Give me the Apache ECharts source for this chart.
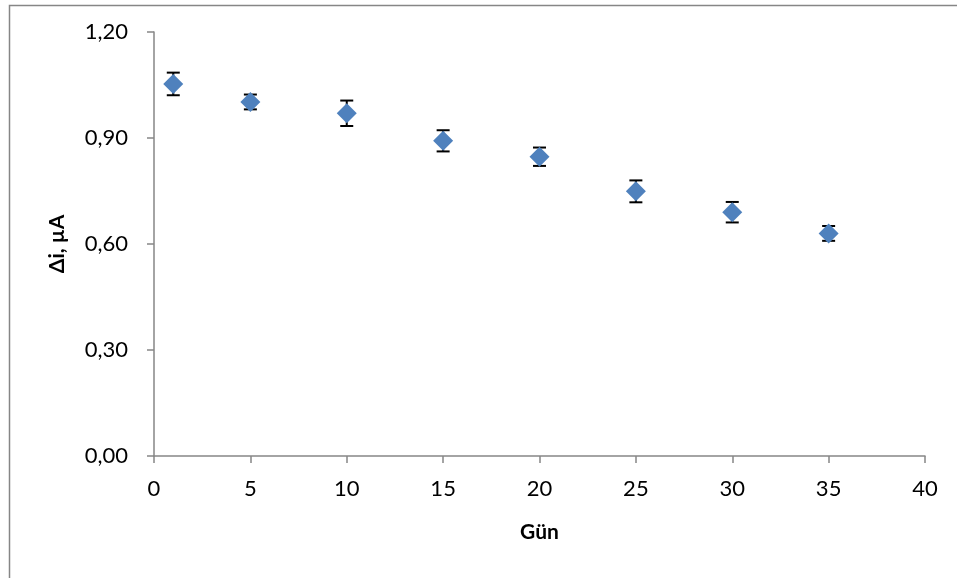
<!DOCTYPE html>
<html><head><meta charset="utf-8">
<script src="https://cdn.jsdelivr.net/npm/echarts@6/dist/echarts.min.js"></script>
<style>html,body{margin:0;padding:0;background:#fff}#c{width:957px;height:578px}</style>
</head><body><div id="c"></div>
<script>
var days = [1, 5, 10, 15, 20, 25, 30, 35];
var deltaI = [1.053, 1.002, 0.970, 0.892, 0.847, 0.749, 0.690, 0.630];
var errors = [0.032, 0.021, 0.036, 0.030, 0.026, 0.031, 0.029, 0.021];
var yTicks = [0, 0.30, 0.60, 0.90, 1.20];
var xTicks = [0, 5, 10, 15, 20, 25, 30, 35, 40];

var font = 'Lato, "Open Sans", sans-serif';
var chart = echarts.init(document.getElementById('c'));
var pts = days.map(function (d, i) { return [d, deltaI[i]]; });
var errData = days.map(function (d, i) { return [d, deltaI[i] - errors[i], deltaI[i] + errors[i]]; });

chart.setOption({
  animation: false,
  backgroundColor: '#fff',
  graphic: [{
    type: 'rect', left: 7, top: 3, shape: { width: 960, height: 590 },
    style: { fill: 'none', stroke: '#868686', lineWidth: 1.5 }, z: -10
  }],
  grid: { left: 154, right: 32, top: 32, bottom: 122 },
  xAxis: {
    type: 'value', min: xTicks[0], max: xTicks[xTicks.length - 1], interval: 5,
    name: 'Gün', nameLocation: 'middle', nameGap: 66,
    nameTextStyle: { fontFamily: font, fontSize: 21, fontWeight: 'bold', color: '#000' },
    axisLine: { lineStyle: { color: '#868686', width: 1.5 } },
    axisTick: { show: true, length: 7, inside: false, lineStyle: { color: '#868686', width: 1.5 } },
    axisLabel: { fontFamily: font, fontSize: 22, color: '#000', margin: 22 },
    splitLine: { show: false }
  },
  yAxis: {
    type: 'value', min: yTicks[0], max: yTicks[yTicks.length - 1], interval: 0.30,
    name: 'Δi, µA', nameLocation: 'middle', nameGap: 86, nameRotate: 90,
    nameTextStyle: { fontFamily: font, fontSize: 21, fontWeight: 'bold', color: '#000' },
    axisLine: { show: true, lineStyle: { color: '#868686', width: 1.5 } },
    axisTick: { show: true, length: 7, inside: false, lineStyle: { color: '#868686', width: 1.5 } },
    axisLabel: { fontFamily: font, fontSize: 22, color: '#000', margin: 26,
      formatter: function (v) { return v.toFixed(2).replace('.', ','); } },
    splitLine: { show: false }
  },
  series: [{
    type: 'custom',
    data: errData,
    z: 1,
    renderItem: function (params, api) {
      var x = api.value(0);
      var lo = api.coord([x, api.value(1)]);
      var hi = api.coord([x, api.value(2)]);
      var w = 6.5;
      var st = { stroke: '#000', lineWidth: 2 };
      return { type: 'group', children: [
        { type: 'line', shape: { x1: lo[0], y1: lo[1], x2: hi[0], y2: hi[1] }, style: st },
        { type: 'line', shape: { x1: lo[0] - w, y1: lo[1], x2: lo[0] + w, y2: lo[1] }, style: st },
        { type: 'line', shape: { x1: hi[0] - w, y1: hi[1], x2: hi[0] + w, y2: hi[1] }, style: st }
      ]};
    }
  }, {
    type: 'scatter',
    data: pts,
    symbol: 'diamond',
    symbolSize: [20, 20],
    z: 2,
    itemStyle: { color: '#4F81BD', opacity: 1 }
  }]
});
</script>
</body></html>
